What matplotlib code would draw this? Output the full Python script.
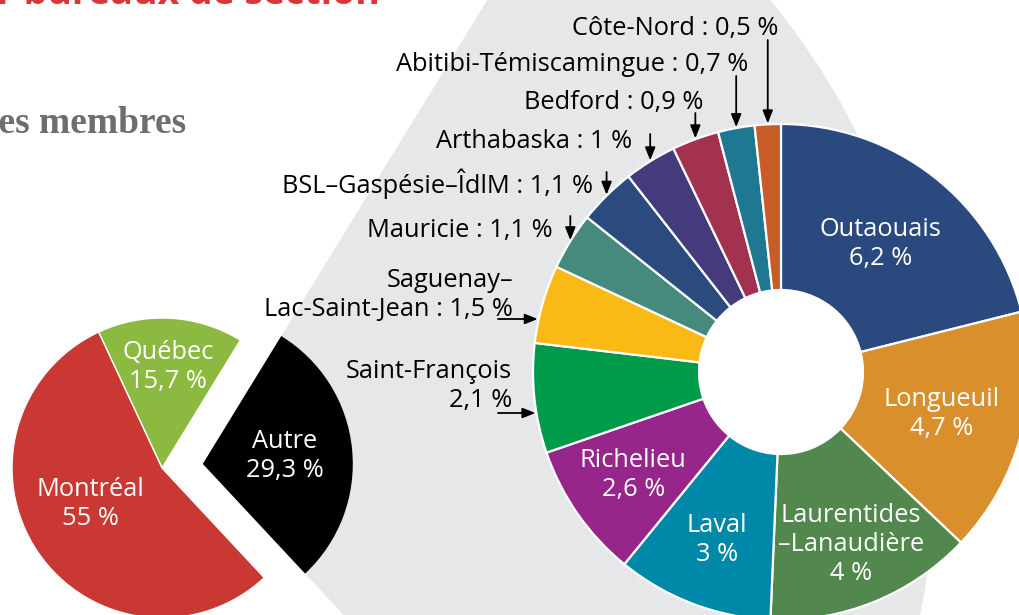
import numpy as np
import matplotlib
matplotlib.use('Agg')
import matplotlib.pyplot as plt
from matplotlib.patches import Wedge, Circle

plt.rcParams['font.family'] = ['Open Sans', 'DejaVu Sans']

# ---------------- data ----------------
main_labels = ['Autre', 'Québec', 'Montréal']
main_values = [29.3, 15.7, 55.0]
main_colors = ['#000000', '#8cb93f', '#c93832']

region_labels = ['Outaouais', 'Longueuil', 'Laurentides\n–Lanaudière', 'Laval',
                 'Richelieu', 'Saint-François', 'Saguenay–\nLac-Saint-Jean',
                 'Mauricie', 'BSL–Gaspésie–ÎdlM', 'Arthabaska', 'Bedford',
                 'Abitibi-Témiscamingue', 'Côte-Nord']
region_values = [6.2, 4.7, 4.0, 3.0, 2.6, 2.1, 1.5, 1.1, 1.1, 1.0, 0.9, 0.7, 0.5]
region_colors = ['#2a4a7f', '#d98f2b', '#52874e', '#0088a8', '#962689',
                 '#009a4b', '#fbb916', '#468a7e', '#2b4a7e', '#433b7c',
                 '#a33150', '#1e7891', '#c95d28']

title_text = 'Membres par bureaux de section'
subtitle_text = 'Répartition des membres'


def fmt(v):
    return ('%g' % v).replace('.', ',') + ' %'


# ---------------- layout ----------------
W, H = 1019, 615


def Y(y):
    return H - y


fig = plt.figure(figsize=(W / 100, H / 100), dpi=100)
ax = fig.add_axes([0, 0, 1, 1])

FS = 18.3
LS = 1.2
GRAY_BG = '#e6e7e8'

# left pie
pie_c = (162, Y(468))
pie_r = 150
gap = 41
wedges, _ = ax.pie(main_values, colors=main_colors, startangle=-47,
                   counterclock=True, center=pie_c, radius=pie_r,
                   wedgeprops=dict(edgecolor='white', linewidth=1.0))
# explode "Autre"
w0 = wedges[0]
tm = np.radians((w0.theta1 + w0.theta2) / 2)
w0.set_center((pie_c[0] + gap * np.cos(tm), pie_c[1] + gap * np.sin(tm)))
w0.set_edgecolor('none')
w0.set_zorder(3)

# gray connector sector behind
bg = Wedge(w0.center, 733, w0.theta1, w0.theta2, facecolor=GRAY_BG,
           edgecolor='none', zorder=0.5)
ax.add_patch(bg)

main_lab_r = [82, 101, 80]
for w, lab, v, rr in zip(wedges, main_labels, main_values, main_lab_r):
    t = np.radians((w.theta1 + w.theta2) / 2)
    if lab == 'Montréal':
        t = np.radians(207)
    x = w.center[0] + rr * np.cos(t)
    y = w.center[1] + rr * np.sin(t)
    ax.text(x, y, lab + '\n' + fmt(v), ha='center', va='center', color='white',
            fontsize=FS, linespacing=LS, zorder=5)

# donut
d_c = (781, Y(372))
d_R = 248
d_r = 82
dw, _ = ax.pie(region_values, colors=region_colors, startangle=90,
               counterclock=False, center=d_c, radius=d_R,
               wedgeprops=dict(width=d_R - d_r, edgecolor='white', linewidth=1.6))
for w in dw:
    w.set_zorder(3)
ax.add_patch(Circle(d_c, d_r, facecolor='white', edgecolor='none', zorder=2.9))

# inside labels (first five slices)
inside_r = [162, 166, 186, 180, 180]
for i, rr in enumerate(inside_r):
    w = dw[i]
    t = np.radians((w.theta1 + w.theta2) / 2)
    x = d_c[0] + rr * np.cos(t)
    y = d_c[1] + rr * np.sin(t)
    ax.text(x, y, region_labels[i] + '\n' + fmt(region_values[i]), ha='center',
            va='center', color='white', fontsize=FS, linespacing=LS, zorder=5)

arrow_kw = dict(arrowstyle='-|>,head_length=0.55,head_width=0.22', color='black',
                lw=1.3, shrinkA=0, shrinkB=0, mutation_scale=14)

# outside labels with vertical arrows: (index, text right x, baseline y, arrow start y)
vert = [(12, 778, 35, 40), (11, 748, 71, 76), (10, 703, 109, 113),
        (9, 632, 148, 134), (8, 593, 193, 172), (7, 553, 237, 216)]
for i, tx, ty, ay in vert:
    w = dw[i]
    t = np.radians((w.theta1 + w.theta2) / 2)
    px = d_c[0] + d_R * np.cos(t)
    py = d_c[1] + d_R * np.sin(t)
    ax.text(tx, Y(ty), region_labels[i] + ' : ' + fmt(region_values[i]),
            ha='right', va='baseline', fontsize=FS, color='black', zorder=4)
    ax.annotate('', xy=(px, py + 1), xytext=(px, Y(ay)), arrowprops=arrow_kw,
                zorder=4)

# outside labels with horizontal arrows: (index, lines, right x, first baseline, arrow y)
horiz = [(6, ['Saguenay–', 'Lac-Saint-Jean : ' + fmt(region_values[6])], 513, 287, 319),
         (5, ['Saint-François', fmt(region_values[5])], 512, 378, 413)]
for i, lines, tx, ty, ay in horiz:
    for k, line in enumerate(lines):
        ax.text(tx, Y(ty + 29 * k), line, ha='right', va='baseline', fontsize=FS,
                color='black', zorder=4)
    yy = Y(ay)
    ex = d_c[0] - np.sqrt(d_R ** 2 - (yy - d_c[1]) ** 2)
    ax.annotate('', xy=(ex - 1, yy), xytext=(498, yy), arrowprops=arrow_kw, zorder=4)

# titles (cropped in the reference)
ax.text(380, Y(4), title_text, ha='right', va='baseline', fontsize=27,
        fontweight='bold', color='#d8373a', zorder=4)
ax.text(186, Y(133), subtitle_text, ha='right', va='baseline', fontsize=27,
        fontweight='bold', color='#6d6e71', family=['Liberation Serif', 'DejaVu Serif'],
        zorder=4)

ax.set_xlim(0, W)
ax.set_ylim(0, H)
ax.set_aspect('equal')
ax.axis('off')

fig.savefig('out.png', dpi=100, facecolor='white')
